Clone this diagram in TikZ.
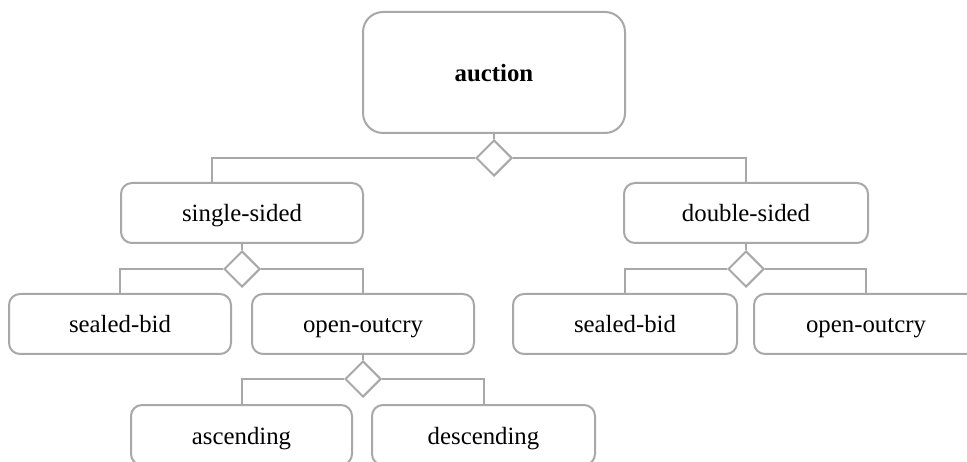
\documentclass[tikz,border=0pt]{standalone}
\usepackage{fontspec}
\setmainfont{Liberation Serif}
\usetikzlibrary{shapes.geometric}
\definecolor{edgegray}{RGB}{168,168,168}
\tikzset{
  box/.style={draw=edgegray, line width=2pt, rounded corners=11pt, fill=white,
    minimum height=60pt, inner sep=0pt, text height=22pt, text depth=4pt,
    font=\fontsize{24.8}{30}\selectfont},
  rootbox/.style={box, rounded corners=20pt, minimum width=262pt, minimum height=121pt,
    font=\fontsize{24.8}{30}\selectfont\bfseries},
  choice/.style={draw=edgegray, line width=2pt, fill=white, diamond, aspect=1,
    minimum width=36pt, minimum height=36pt, inner sep=0pt,
    text height=0pt, text depth=0pt},
  link/.style={draw=edgegray, line width=2pt}
}
\begin{document}
\begin{tikzpicture}[x=1pt, y=-1pt]
  \path[use as bounding box] (0,0) rectangle (967,462);
  \clip (0,0) rectangle (967,462);

  % centres of the choice diamonds
  \coordinate (cA) at (494,158);
  \coordinate (cS) at (242,269);
  \coordinate (cD) at (746,269);
  \coordinate (cO) at (363,379);

  \node[rootbox] (auction) at (494,72.5) {auction};

  \node[box, minimum width=242pt] (single) at (242,213) {single-sided};
  \node[box, minimum width=244pt] (double) at (746,213) {double-sided};

  \node[box, minimum width=222pt] (sealL) at (120,324) {sealed-bid};
  \node[box, minimum width=222pt] (openL) at (363,324) {open-outcry};
  \node[box, minimum width=224pt] (sealR) at (625,324) {sealed-bid};
  \node[box, minimum width=224pt] (openR) at (866,324) {open-outcry};

  \node[box, minimum width=221pt] (asc) at (241.5,435) {ascending};
  \node[box, minimum width=223pt] (desc) at (483.5,435) {descending};

  \node[choice] (dA) at (cA) {};
  \node[choice] (dS) at (cS) {};
  \node[choice] (dD) at (cD) {};
  \node[choice] (dO) at (cO) {};

  % auction -> single-sided / double-sided
  \draw[link] (auction.south) -- (dA.north);
  \draw[link] (dA.west) -| ([xshift=-30pt]single.north);
  \draw[link] (dA.east) -| (double.north);

  % single-sided -> sealed-bid / open-outcry
  \draw[link] (single.south) -- (dS.north);
  \draw[link] (dS.west) -| (sealL.north);
  \draw[link] (dS.east) -| (openL.north);

  % double-sided -> sealed-bid / open-outcry
  \draw[link] (double.south) -- (dD.north);
  \draw[link] (dD.west) -| (sealR.north);
  \draw[link] (dD.east) -| (openR.north);

  % open-outcry -> ascending / descending
  \draw[link] (openL.south) -- (dO.north);
  \draw[link] (dO.west) -| (asc.north);
  \draw[link] (dO.east) -| (desc.north);
\end{tikzpicture}
\end{document}
